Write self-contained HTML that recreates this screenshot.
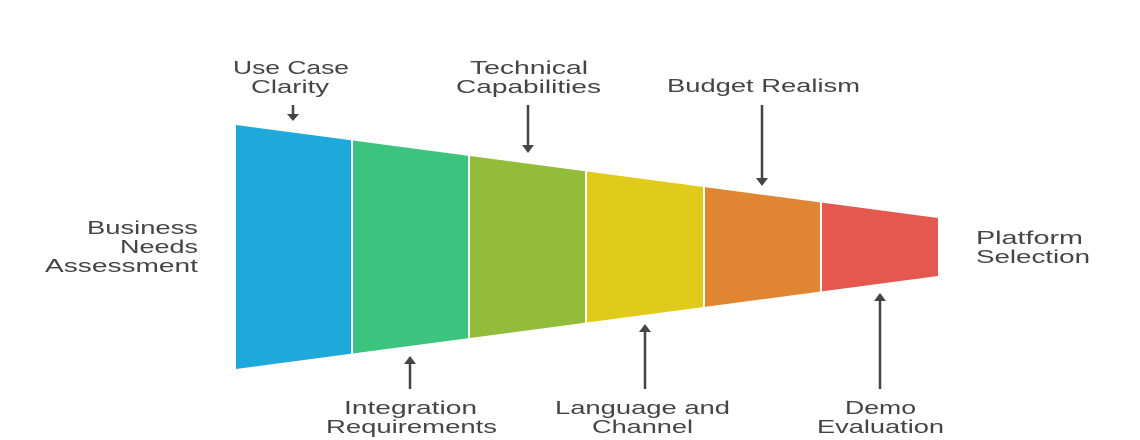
<!DOCTYPE html>
<html><head><meta charset="utf-8"><style>
html,body{margin:0;padding:0;background:#fff;}
svg{display:block}
text{font-family:"Liberation Sans",sans-serif;font-size:18px;fill:#454545}
</style></head><body>
<svg width="1140" height="440" viewBox="0 0 1140 440" xmlns="http://www.w3.org/2000/svg">
<g>
<polygon points="236,125 351,140.2 351,353.8 236,369" fill="#1FA9DB"/>
<polygon points="353,140.5 468,155.7 468,338.3 353,353.5" fill="#3CC47E"/>
<polygon points="470,156 585,171.2 585,322.8 470,338" fill="#93BC3B"/>
<polygon points="587,171.5 703,186.9 703,307.1 587,322.5" fill="#E0CB1B"/>
<polygon points="705,187.1 820,202.4 820,291.6 705,306.9" fill="#E08531"/>
<polygon points="822,202.6 938,218 938,276 822,291.4" fill="#E5584F"/>
</g>
<g stroke="#454545" stroke-width="2.5" fill="#454545">
<line x1="293" y1="105" x2="293" y2="116"/><polygon points="287,114 299,114 293,121" stroke="none"/>
<line x1="528" y1="105" x2="528" y2="147"/><polygon points="522,145 534,145 528,153" stroke="none"/>
<line x1="762" y1="105" x2="762" y2="180"/><polygon points="756,178 768,178 762,186" stroke="none"/>
<line x1="410" y1="389" x2="410" y2="362"/><polygon points="404,364 416,364 410,356" stroke="none"/>
<line x1="645" y1="389" x2="645" y2="330"/><polygon points="639,332 651,332 645,324" stroke="none"/>
<line x1="880" y1="389" x2="880" y2="299"/><polygon points="874,301 886,301 880,293" stroke="none"/>
</g>
<g>
<text x="233" y="74" textLength="116" lengthAdjust="spacingAndGlyphs">Use Case</text>
<text x="251" y="93" textLength="78" lengthAdjust="spacingAndGlyphs">Clarity</text>
<text x="470" y="74" textLength="118" lengthAdjust="spacingAndGlyphs">Technical</text>
<text x="456" y="93" textLength="145" lengthAdjust="spacingAndGlyphs">Capabilities</text>
<text x="667" y="92" textLength="193" lengthAdjust="spacingAndGlyphs">Budget Realism</text>
<text x="344" y="414" textLength="133" lengthAdjust="spacingAndGlyphs">Integration</text>
<text x="326" y="433" textLength="171" lengthAdjust="spacingAndGlyphs">Requirements</text>
<text x="555" y="414" textLength="175" lengthAdjust="spacingAndGlyphs">Language and</text>
<text x="592" y="433" textLength="101" lengthAdjust="spacingAndGlyphs">Channel</text>
<text x="845" y="414" textLength="71" lengthAdjust="spacingAndGlyphs">Demo</text>
<text x="817" y="433" textLength="127" lengthAdjust="spacingAndGlyphs">Evaluation</text>
<text x="87" y="234" textLength="111" lengthAdjust="spacingAndGlyphs">Business</text>
<text x="120" y="253" textLength="78" lengthAdjust="spacingAndGlyphs">Needs</text>
<text x="45" y="272" textLength="153" lengthAdjust="spacingAndGlyphs">Assessment</text>
<text x="976" y="244" textLength="107" lengthAdjust="spacingAndGlyphs">Platform</text>
<text x="976" y="263" textLength="114" lengthAdjust="spacingAndGlyphs">Selection</text>
</g>
</svg>
</body></html>
